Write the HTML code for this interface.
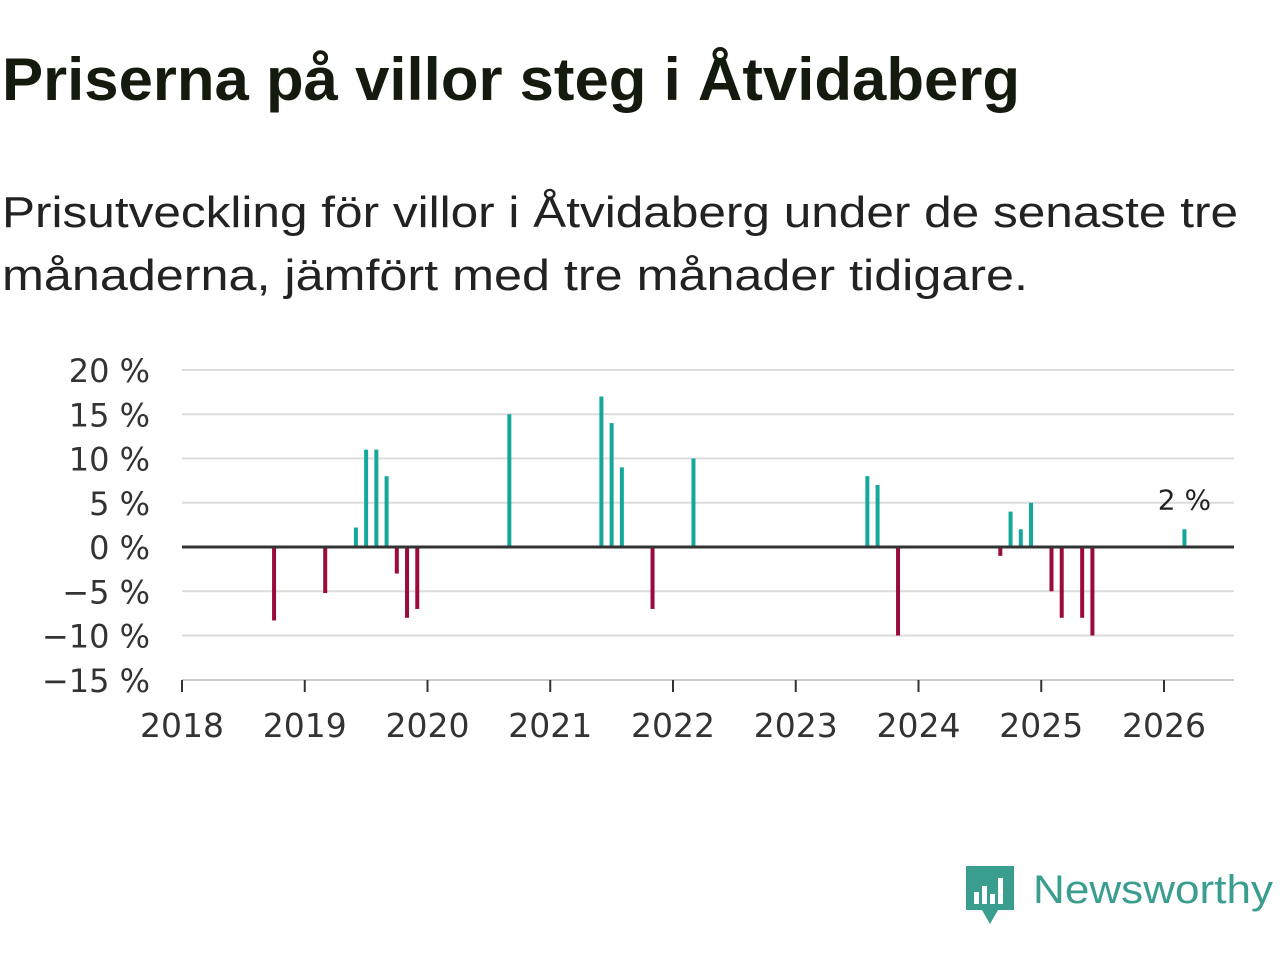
<!DOCTYPE html>
<html><head><meta charset="utf-8"><style>
body{margin:0;width:1280px;height:960px;background:#fff;font-family:"Liberation Sans",sans-serif;overflow:hidden;position:relative}
svg{position:absolute;left:0;top:0}
</style></head><body>
<svg width="1280" height="320">
<text x="2" y="100" font-size="60" font-weight="bold" fill="#151a0e" font-family="Liberation Sans,sans-serif" textLength="1018" lengthAdjust="spacingAndGlyphs">Priserna på villor steg i Åtvidaberg</text>
<text x="2" y="227" font-size="44" fill="#222" font-family="Liberation Sans,sans-serif" textLength="1236" lengthAdjust="spacingAndGlyphs">Prisutveckling för villor i Åtvidaberg under de senaste tre</text>
<text x="2" y="290" font-size="44" fill="#222" font-family="Liberation Sans,sans-serif" textLength="1026" lengthAdjust="spacingAndGlyphs">månaderna, jämfört med tre månader tidigare.</text>
</svg>
<svg id="chart" width="1280" height="960"></svg>
<script>
const months=[9,14,17,18,19,20,21,22,23,32,41,42,43,46,50,67,68,70,80,81,82,83,85,86,88,89,98];
const values=[-8.3,-5.2,2.2,11,11,8,-3,-8,-7,15,17,14,9,-7,10,8,7,-10,-1,4,2,5,-5,-8,-8,-10,2];
const yTicks=[20,15,10,5,0,-5,-10,-15];
const yLabels=["20 %","15 %","10 %","5 %","0 %","−5 %","−10 %","−15 %"];
const xYears=[2018,2019,2020,2021,2022,2023,2024,2025,2026];
const svg=document.getElementById('chart');const NS='http://www.w3.org/2000/svg';
const F='DejaVu Sans,sans-serif';
const x=m=>182+m*(982/96);
const y=v=>547-v*8.85;
function el(t,a,txt){const e=document.createElementNS(NS,t);for(const k in a)e.setAttribute(k,a[k]);if(txt!==undefined)e.textContent=txt;svg.appendChild(e);return e;}
yTicks.forEach((v,i)=>{
 if(v!==0&&v!==-15){const g=el('line',{x1:182,x2:1234,y1:y(v),y2:y(v),stroke:'#dcdcdc','stroke-width':2});
 
 }
 const t=el('text',{x:150,y:y(v)+12,'text-anchor':'end','font-size':32,fill:'#333','font-family':F},yLabels[i]);
 
 
});
const ax=el('line',{x1:182,x2:1234,y1:680,y2:680,stroke:'#ccc','stroke-width':2});


xYears.forEach((yr,i)=>{
 const xx=x(i*12);
 const tk=el('line',{x1:xx,x2:xx,y1:680,y2:692,stroke:'#333','stroke-width':2});
 
 
 const t=el('text',{x:xx,y:737,'text-anchor':'middle','font-size':33,fill:'#333','font-family':F},yr);
 
 
});
months.forEach((m,i)=>{
 const v=values[i];const top=Math.min(y(v),y(0)),h=Math.abs(y(v)-y(0));
 const b=el('rect',{x:x(m)-2,y:top,width:4,height:h,fill:v>=0?'#13a89a':'#9b0a3f'});
 
 
});
const z=el('line',{x1:182,x2:1234,y1:y(0),y2:y(0),stroke:'#333','stroke-width':3});


const last=months.length-1;
const lbl=el('text',{x:x(months[last]),y:y(values[last])-20,'text-anchor':'middle','font-size':28,fill:'#222','font-family':F},Math.round(values[last])+' %');


</script>
<svg width="1280" height="960" style="pointer-events:none">
<path d="M966 866 h48 v44 h-16 l-8 14 l-8 -14 h-16z" fill="#3a9e8f"/>
<rect x="974" y="892" width="5" height="12" fill="#fff"/><rect x="982" y="886" width="5" height="18" fill="#fff"/><rect x="990" y="894" width="5" height="10" fill="#fff"/><rect x="998" y="878" width="5" height="26" fill="#fff"/>
<text x="1033" y="903" font-size="40" fill="#3a9e8f" font-family="Liberation Sans,sans-serif" textLength="240" lengthAdjust="spacingAndGlyphs">Newsworthy</text>
</svg>
</body></html>
